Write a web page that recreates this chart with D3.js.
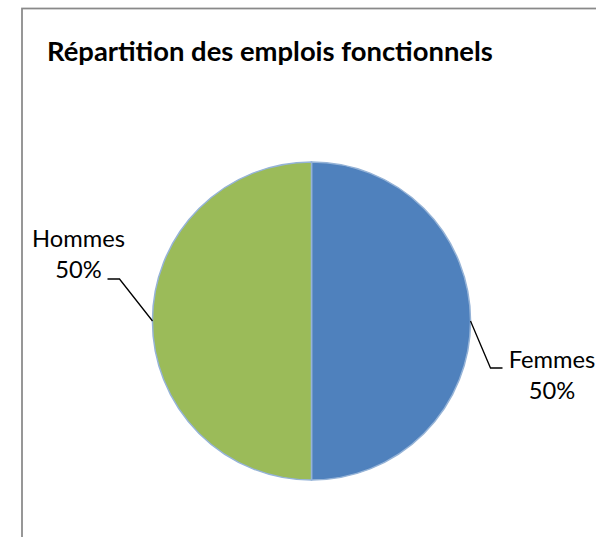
<!DOCTYPE html>
<html>
<head>
<meta charset="utf-8">
<script src="https://cdn.jsdelivr.net/npm/d3@7"></script>
<style>
  html, body { margin: 0; padding: 0; background: #fff; }
  svg { display: block; }
</style>
</head>
<body>
<svg id="chart" width="596" height="537"></svg>
<script>
const title = "Répartition des emplois fonctionnels";
const categories = ["Femmes", "Hommes"];
const values = [50, 50];
const colors = ["#4F81BD", "#9BBB59"];

const W = 596, H = 537;
const svg = d3.select("#chart");
const font = "Lato, 'Liberation Sans', sans-serif";

// chart area border (extends beyond window on right/bottom)
svg.append("rect")
  .attr("x", 22).attr("y", 8.5)
  .attr("width", 700).attr("height", 700)
  .attr("fill", "#fff")
  .attr("stroke", "#898989")
  .attr("stroke-width", 1.75);

// title
const t = svg.append("text")
  .attr("x", 47).attr("y", 61)
  .attr("font-family", font)
  .attr("font-weight", "bold")
  .attr("font-size", 20)
  .attr("fill", "#000")
  .text(title);
const tw = t.node().getComputedTextLength();
t.attr("font-size", 20 * 446 / tw);

// pie
const cx = 311.5, cy = 321, r = 159;
const total = d3.sum(values);
const pie = d3.pie().sort(null).value(d => d)(values);
const arc = d3.arc().innerRadius(0).outerRadius(r);
const g = svg.append("g").attr("transform", `translate(${cx},${cy})`);
g.selectAll("path")
  .data(pie)
  .join("path")
  .attr("d", arc)
  .attr("fill", (d, i) => colors[i])
  .attr("stroke", "#95B3D7")
  .attr("stroke-width", 1.5);

// labels with leader lines
const fmt = d3.format(".0%");
// size label font so "Hommes" is ~93px wide, as in the reference
const probe = svg.append("text").attr("font-family", font).attr("font-size", 20).text(categories[1]);
const labelFont = 20 * 93 / probe.node().getComputedTextLength();
probe.remove();
const cfg = [
  // Femmes (right)
  { elbowDx: 20, elbowDy: 47, tailDx: 12, tx: 552, ty: 368 },
  // Hommes (left)
  { elbowDx: -33, elbowDy: -42, tailDx: -12, tx: 78.5, ty: 247 }
];
pie.forEach((d, i) => {
  const mid = (d.startAngle + d.endAngle) / 2;
  const px = cx + r * Math.sin(mid);
  const py = cy - r * Math.cos(mid);
  const c = cfg[i];
  const ex = px + c.elbowDx, ey = py + c.elbowDy;
  svg.append("path")
    .attr("d", `M${px},${py}L${ex},${ey}L${ex + c.tailDx},${ey}`)
    .attr("fill", "none")
    .attr("stroke", "#000")
    .attr("stroke-width", 1.3);
  const txt = svg.append("text")
    .attr("x", c.tx).attr("y", c.ty)
    .attr("text-anchor", "middle")
    .attr("font-family", font)
    .attr("font-size", labelFont)
    .attr("fill", "#000");
  txt.append("tspan").attr("x", c.tx).text(categories[i]);
  txt.append("tspan").attr("x", c.tx).attr("dy", 31).text(fmt(d.data / total));
});
</script>
</body>
</html>
